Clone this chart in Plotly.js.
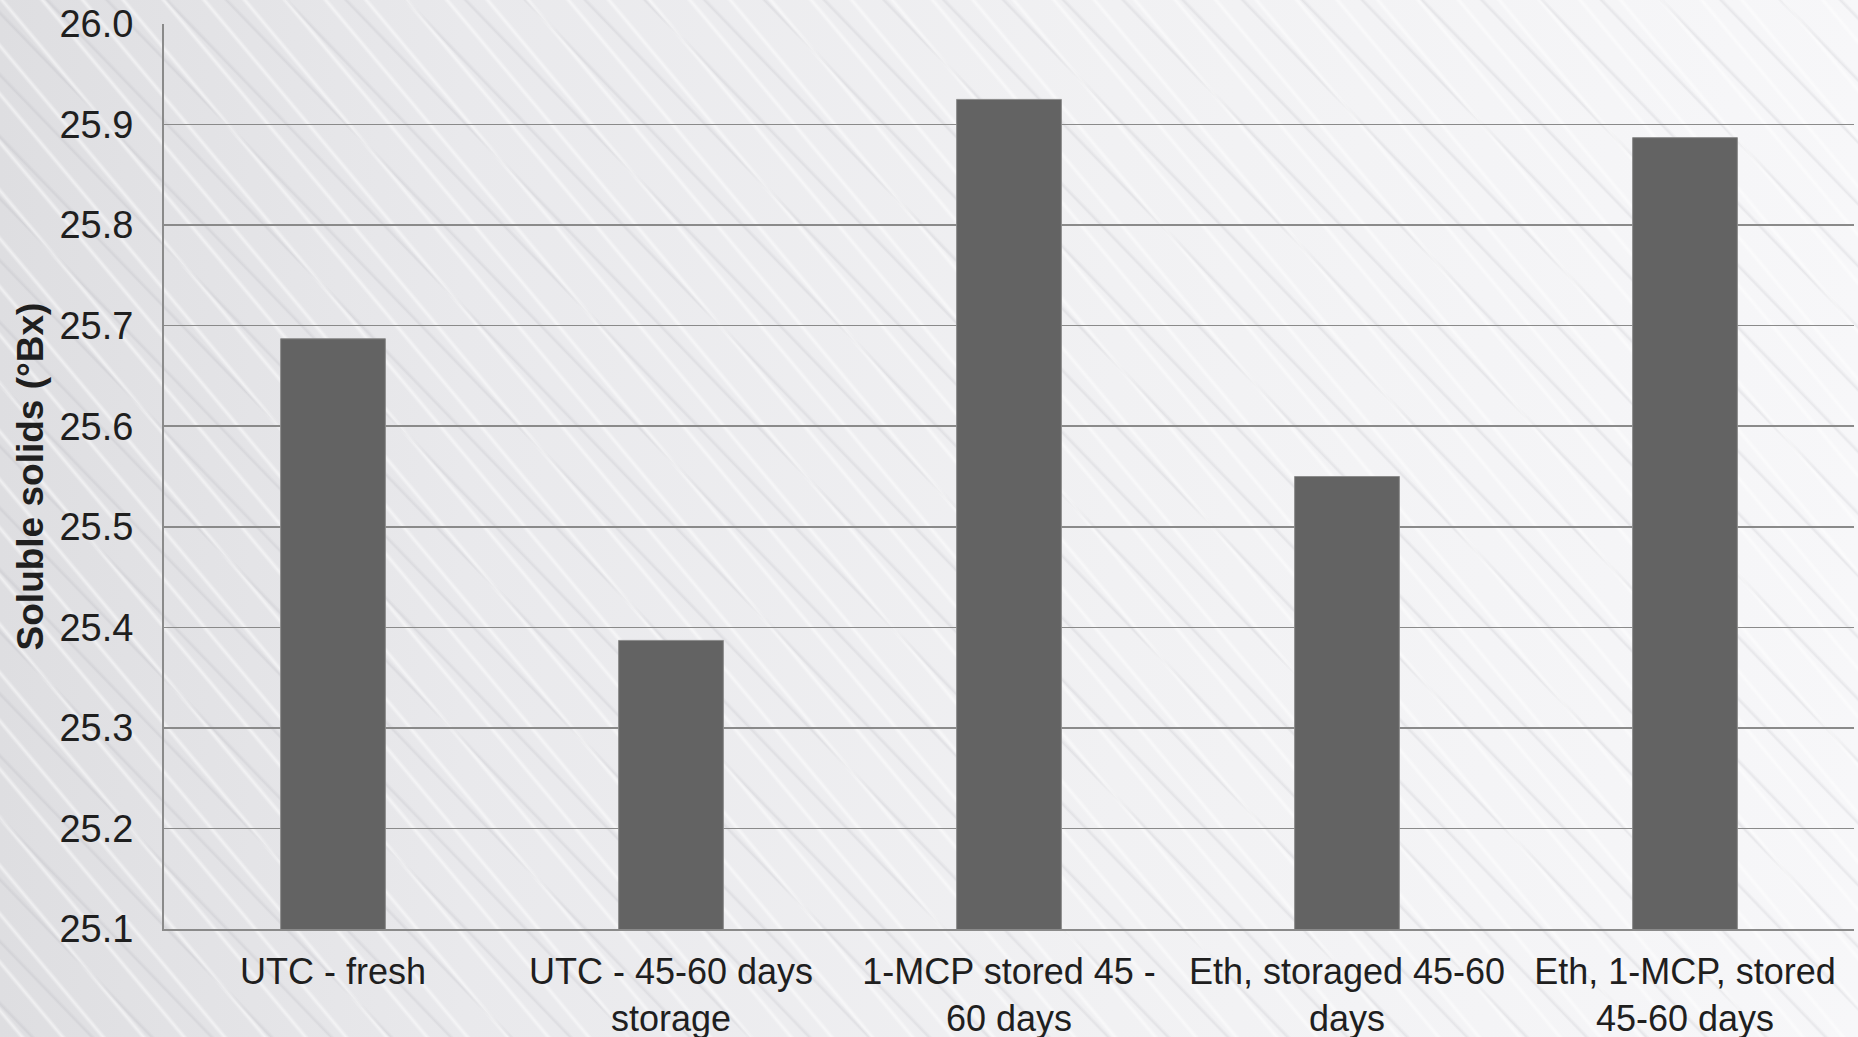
<!DOCTYPE html>
<html>
<head>
<meta charset="utf-8">
<script src="https://cdn.plot.ly/plotly-3.0.1.min.js"></script>
<style>
  html, body { margin: 0; padding: 0; }
  body {
    width: 1858px; height: 1037px; overflow: hidden;
    background-color: #ececee;
    background-image:
      repeating-linear-gradient(50deg, rgba(255,255,255,0) 0px, rgba(255,255,255,0) 14px, rgba(255,255,255,0.55) 17px, rgba(255,255,255,0) 20px, rgba(255,255,255,0) 31px),
      repeating-linear-gradient(46deg, rgba(150,150,160,0) 0px, rgba(150,150,160,0) 21px, rgba(150,150,160,0.16) 23px, rgba(150,150,160,0) 26px, rgba(150,150,160,0) 43px),
      linear-gradient(90deg, #dedee1 0%, #e9e9ec 25%, #f1f1f3 60%, #f7f7f9 100%);
  }
  #chart { width: 1858px; height: 1037px; }
</style>
</head>
<body>
<div id="chart"></div>
<script>
// Soluble solids by storage treatment
const categories = [
  'UTC - fresh',
  'UTC - 45-60 days<br>storage',
  '1-MCP stored 45 -<br>60 days',
  'Eth, storaged 45-60<br>days',
  'Eth, 1-MCP, stored<br>45-60 days'
];
const solubleSolids = [25.687, 25.387, 25.925, 25.55, 25.887];
const yTicks = [25.1, 25.2, 25.3, 25.4, 25.5, 25.6, 25.7, 25.8, 25.9, 26.0];

const textColor = '#1f1f1f';
const gridColor = '#8a8a8a';

const trace = {
  type: 'bar',
  x: categories,
  y: solubleSolids,
  marker: { color: '#636363', line: { color: '#8c8c8c', width: 1 } },
  hoverinfo: 'x+y'
};

const layout = {
  width: 1858,
  height: 1037,
  margin: { l: 164, r: 4, t: 24, b: 108, pad: 0 },
  paper_bgcolor: 'rgba(0,0,0,0)',
  plot_bgcolor: 'rgba(0,0,0,0)',
  font: { family: '"Liberation Sans", Arial, sans-serif', size: 37, color: textColor },
  showlegend: false,
  bargap: 0.69,
  xaxis: {
    type: 'category',
    showgrid: false,
    showline: true,
    linecolor: gridColor,
    linewidth: 2,
    ticks: '',
    tickfont: { size: 36, color: textColor },
    ticklabelstandoff: 10,
    fixedrange: true
  },
  yaxis: {
    range: [25.1, 26.0],
    tickvals: yTicks,
    ticktext: yTicks.map(v => v.toFixed(1)),
    showgrid: true,
    gridcolor: gridColor,
    gridwidth: 1.6,
    showline: true,
    linecolor: gridColor,
    linewidth: 2,
    zeroline: false,
    ticks: '',
    ticklabelstandoff: 21,
    tickfont: { size: 38, color: textColor },
    title: {
      text: '<b>Soluble solids (°Bx)</b>',
      font: { size: 37, color: textColor },
      standoff: 4
    },
    fixedrange: true
  }
};

Plotly.newPlot('chart', [trace], layout, { displayModeBar: false, staticPlot: true });
</script>
</body>
</html>
